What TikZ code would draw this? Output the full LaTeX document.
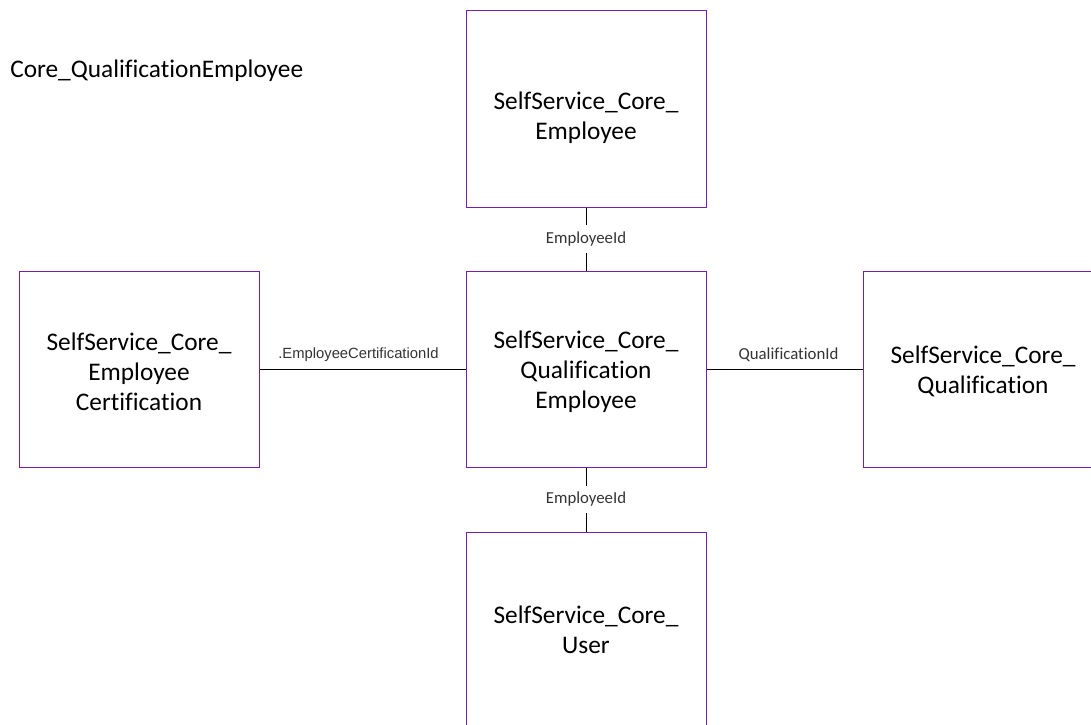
\documentclass[tikz,border=0pt]{standalone}
\usepackage{fontspec}
\setmainfont{Carlito}[Ligatures=CommonOff]
\newfontfamily\arialfont{Liberation Sans}
\usepackage{xcolor}
\usepackage{tikz}

\definecolor{tablepurple}{RGB}{120,30,170}
\definecolor{labelgray}{RGB}{51,51,51}
\tikzset{
  tablebox/.style={draw=tablepurple, line width=0.75pt, minimum width=180pt, minimum height=147pt, inner sep=0pt, align=center, font=\fontsize{19}{22.5}\selectfont},
  keylabel/.style={font=\fontsize{12.6}{14}\selectfont, text=labelgray},
  link/.style={black, line width=0.75pt}
}

\begin{document}
\begin{tikzpicture}[x=0.75pt, y=-0.75pt]
\useasboundingbox (0,0) rectangle (1091,724);
\clip (0,0) rectangle (1091,724);
\node[anchor=base west, inner sep=0pt, font=\fontsize{19}{22.5}\selectfont] (title) at (10,78) {Core\_QualificationEmployee};
\node[tablebox, text height=63pt] (qualemp) at (586,369) {SelfService\_Core\_\\Qualification\\Employee};
\node[tablebox, text height=49.5pt] (emp) at (586,109) {SelfService\_Core\_\\Employee};
\node[tablebox, text height=63pt] (cert) at (139,369) {SelfService\_Core\_\\Employee\\Certification};
\node[tablebox, text height=39pt] (qual) at (983,369) {SelfService\_Core\_\\Qualification};
\node[tablebox] (user) at (586,630) {SelfService\_Core\_\\User};
\draw[link] (emp) -- node[keylabel, fill=white, inner ysep=5pt] {EmployeeId} (qualemp);
\draw[link] (qualemp) -- node[keylabel, fill=white, inner ysep=5pt] {EmployeeId} (user);
\draw[link] (cert) -- node[keylabel, above=2pt, xshift=-3pt, font=\arialfont\fontsize{11.1}{13}\selectfont] {.EmployeeCertificationId} (qualemp);
\draw[link] (qualemp) -- node[keylabel, above=2pt, xshift=3pt] {QualificationId} (qual);
\end{tikzpicture}
\end{document}
